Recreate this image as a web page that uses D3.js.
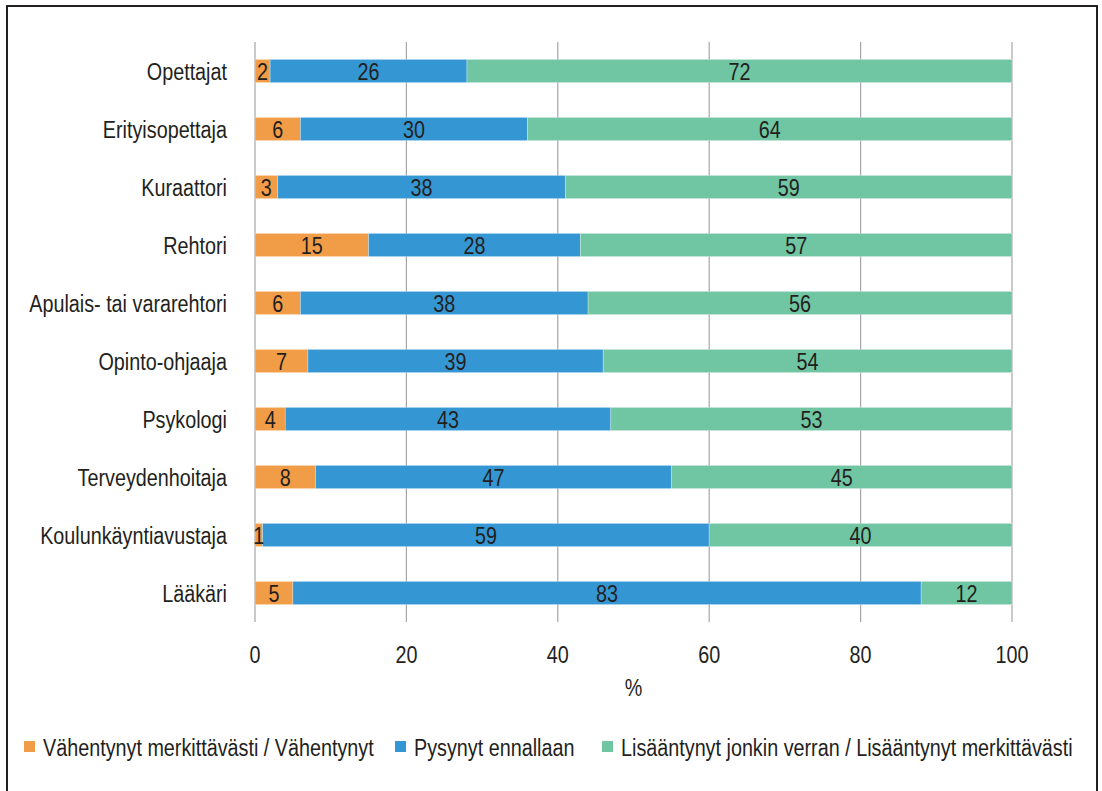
<!DOCTYPE html>
<html>
<head>
<meta charset="utf-8">
<script src="https://cdn.jsdelivr.net/npm/d3@7"></script>
<style>
  body { margin: 0; background: #fff; }
  svg text { font-family: "Liberation Sans", Arial, sans-serif; fill: #231f20; font-size: 23px; }
</style>
</head>
<body>
<div id="chart"></div>
<script>
const categories = ['Opettajat', 'Erityisopettaja', 'Kuraattori', 'Rehtori', 'Apulais- tai vararehtori',
    'Opinto-ohjaaja', 'Psykologi', 'Terveydenhoitaja', 'Koulunkäyntiavustaja', 'Lääkäri'];
const decreased = [2, 6, 3, 15, 6, 7, 4, 8, 1, 5];
const unchanged = [26, 30, 38, 28, 38, 39, 43, 47, 59, 83];
const increased = [72, 64, 59, 57, 56, 54, 53, 45, 40, 12];
const seriesNames = ['Vähentynyt merkittävästi / Vähentynyt', 'Pysynyt ennallaan', 'Lisääntynyt jonkin verran / Lisääntynyt merkittävästi'];
const colors = ['#f19c46', '#3497d4', '#70c6a2'];
const xTicks = [0, 20, 40, 60, 80, 100];

const W = 1102, H = 791;
const NARROW = 0.86; // fake a condensed face

const svg = d3.select('#chart').append('svg')
    .attr('width', W)
    .attr('height', H);

// condensed text helper
function label(g, x, y, str, anchor) {
    return g.append('text')
        .attr('transform', `translate(${x},${y}) scale(${NARROW},1)`)
        .attr('text-anchor', anchor || 'start')
        .text(str);
}

// frame
svg.append('rect')
    .attr('x', 7).attr('y', 6)
    .attr('width', 1090).attr('height', 800)
    .attr('fill', 'none')
    .attr('stroke', '#231f20')
    .attr('stroke-width', 2);

const x = d3.scaleLinear().domain([0, 100]).range([255, 1012]);
const y = d3.scaleBand().domain(categories).range([42, 622]).paddingInner(0.6).paddingOuter(0.3);

// gridlines
svg.append('g')
    .selectAll('line')
    .data(xTicks)
    .enter()
    .append('line')
    .attr('x1', d => x(d)).attr('x2', d => x(d))
    .attr('y1', 42).attr('y2', 622)
    .attr('stroke', '#a6a6a6')
    .attr('stroke-width', 1.2);

// stacked segments
const segs = [];
categories.forEach((c, i) => {
    let acc = 0;
    [decreased[i], unchanged[i], increased[i]].forEach((v, k) => {
        segs.push({ cat: c, k: k, v: v, x0: acc, x1: acc + v });
        acc += v;
    });
});

svg.append('g')
    .selectAll('rect')
    .data(segs)
    .enter()
    .append('rect')
    .attr('x', d => x(d.x0))
    .attr('y', d => y(d.cat))
    .attr('width', d => x(d.x1) - x(d.x0))
    .attr('height', y.bandwidth())
    .attr('fill', d => colors[d.k])
    .attr('stroke', 'rgba(255,255,255,0.35)')
    .attr('stroke-width', 0.8);

const valueG = svg.append('g');
segs.forEach(d => {
    label(valueG, (x(d.x0) + x(d.x1)) / 2, y(d.cat) + y.bandwidth() / 2 + 8.5, d.v, 'middle');
});

// category labels
const catG = svg.append('g');
categories.forEach(c => {
    label(catG, 227, y(c) + y.bandwidth() / 2 + 8.5, c, 'end');
});

// x tick labels
const tickG = svg.append('g');
xTicks.forEach(t => label(tickG, x(t), 663, t, 'middle'));
label(svg, x(50), 696, '%', 'middle');

// legend
const legendX = [24, 395, 602];
const legend = svg.append('g');
seriesNames.forEach((name, i) => {
    legend.append('rect')
        .attr('x', legendX[i]).attr('y', 741)
        .attr('width', 11).attr('height', 11)
        .attr('fill', colors[i]);
    label(legend, legendX[i] + 19, 756, name, 'start');
});
</script>
</body>
</html>
